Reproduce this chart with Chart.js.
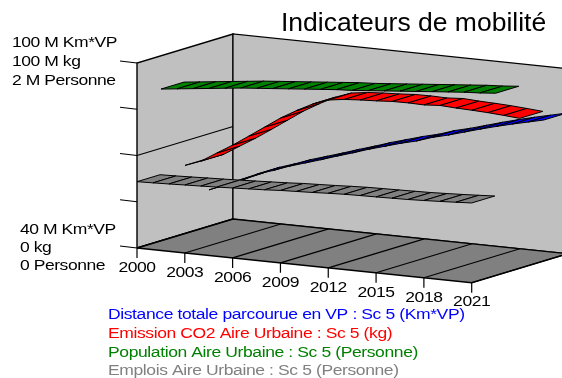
<!DOCTYPE html>
<html>
<head>
<meta charset="utf-8">
<title>Indicateurs de mobilité</title>
<script src="https://cdn.jsdelivr.net/npm/chart.js@4"></script>
<style>
  html, body { margin: 0; padding: 0; background: #fff; overflow: hidden; }
  canvas { display: block; }
</style>
</head>
<body>
<canvas id="chart3d" width="562" height="378"></canvas>
<script>
// valeurs, une par an
var years = [2000,2001,2002,2003,2004,2005,2006,2007,2008,2009,2010,2011,2012,2013,2014,2015,2016,2017,2018,2019,2020,2021];
var tickYears = [2000,2003,2006,2009,2012,2015,2018,2021];
var distanceKm = [51.8,53.9,56.2,58.5,60.2,62.1,63.7,65.3,67,68.6,70.3,71.8,73.3,74.6,76.3,77.6,79.1,80.6,82,83.3,84.5,85.7];
var emissionKg = [36.8,40,45.3,50.5,56.2,62,67.8,72.7,77.1,80.2,81.4,82,82.4,83,83.1,82.9,83.5,83,82.7,82.3,81.7,81];
var population = [1.64,1.66,1.68,1.70,1.72,1.74,1.755,1.77,1.785,1.80,1.815,1.83,1.84,1.855,1.87,1.885,1.90,1.915,1.93,1.945,1.955,1.97];
var emplois = [0.717,0.722,0.728,0.735,0.741,0.748,0.756,0.764,0.772,0.783,0.79,0.797,0.806,0.813,0.817,0.82,0.824,0.828,0.835,0.843,0.852,0.862];
var topLabels = ['100 M Km*VP','100 M kg','2 M Personne'];
var bottomLabels = ['40 M Km*VP','0 kg','0 Personne'];
var legendLabels = ['Distance totale parcourue en VP : Sc 5 (Km*VP)','Emission CO2 Aire Urbaine : Sc 5 (kg)','Population Aire Urbaine : Sc 5 (Personne)','Emplois Aire Urbaine : Sc 5 (Personne)'];
var legendColors = ['#0000ff','#ff0000','#008000','#808080'];

// repere oblique : annee, hauteur 0-1, profondeur 0-1
var lastYear = years.length - 1;
function project(k, h, d) {
    return {
        x: 137 + k * 334.7 / lastYear + d * 96,
        y: 248 + k * 34.7 / lastYear - d * 29 - h * 185
    };
}

function poly(points, fillColor, width) {
    return {
        data: points.concat([points[0]]),
        showLine: true,
        fill: fillColor ? 'shape' : false,
        backgroundColor: fillColor || 'transparent',
        borderColor: '#000',
        borderWidth: width,
        pointRadius: 0,
        tension: 0
    };
}

function wire(points, width) {
    var ds = poly(points, null, width);
    ds.data = points;
    return ds;
}

// ruban : un quadrilatere par annee
function ribbon(values, min, max, depth, color) {
    var out = [];
    var thick = 0.24;
    for (var k = 0; k < lastYear; k++) {
        var a = (values[k] - min) / (max - min);
        var b = (values[k + 1] - min) / (max - min);
        out.push(poly([project(k, a, depth), project(k + 1, b, depth), project(k + 1, b, depth + thick), project(k, a, depth + thick)], color, 1));
    }
    return out;
}

// ordre de peinture : du fond vers l'avant
var painted = [];
painted.push(poly([project(0,0,0),project(0,1,0),project(0,1,1),project(0,0,1)], '#c0c0c0', 1.4));
painted.push(poly([project(0,0,1),project(0,1,1),project(lastYear,1,1),project(lastYear,0,1)], '#c0c0c0', 1.2));
painted.push(poly([project(0,0,0),project(0,0,1),project(lastYear,0,1),project(lastYear,0,0)], '#808080', 1.4));
painted.push(wire([project(0,0.5,0),project(0,0.5,1)], 1.2));
tickYears.forEach(function(y) {
    var k = years.indexOf(y);
    painted.push(wire([project(k,0,0),project(k,0,1)], 1.2));
    var p = project(k,0,0);
    painted.push(wire([p,{x:p.x,y:p.y+10}], 1.2));
});
[0,0.25,0.5,0.75,1].forEach(function(h) {
    var p = project(0,h,0);
    painted.push(wire([p,{x:p.x-17,y:p.y-2}], 1.2));
});
painted = painted
    .concat(ribbon(distanceKm, 40, 100, 0.75, '#0000ff'))
    .concat(ribbon(emissionKg, 0, 100, 0.5, '#ff0000'))
    .concat(ribbon(population, 0, 2, 0.25, '#008000'))
    .concat(ribbon(emplois, 0, 2, 0, '#808080'));

// texte etire en largeur comme sur l'original
function wideText(ctx, text, x, y) {
    ctx.save();
    ctx.translate(x, y);
    ctx.scale(1.13, 1);
    ctx.fillText(text, 0, 0);
    ctx.restore();
}

var textPlugin = {
    id: 'textPlugin',
    afterDraw: function(chart) {
        var ctx = chart.ctx;
        ctx.save();
        ctx.textBaseline = 'middle';
        ctx.fillStyle = '#000';

        ctx.font = '26.5px "Liberation Sans"';
        ctx.letterSpacing = '0px';
        ctx.textAlign = 'left';
        ctx.fillText('Indicateurs de mobilité', 281, 24);

        ctx.font = '15.5px "Liberation Sans"';
        ctx.letterSpacing = '-0.4px';
        topLabels.forEach(function(t, i) { wideText(ctx, t, 12, 43 + i * 19); });
        bottomLabels.forEach(function(t, i) { wideText(ctx, t, 20, 230 + i * 18); });

        ctx.textAlign = 'center';
        tickYears.forEach(function(y) {
            var p = project(years.indexOf(y), 0, 0);
            wideText(ctx, String(y), p.x, p.y + 19.5);
        });

        ctx.textAlign = 'left';
        ctx.letterSpacing = '-0.35px';
        legendLabels.forEach(function(t, i) {
            ctx.fillStyle = legendColors[i];
            wideText(ctx, t, 108, 315 + i * 18.7);
        });
        ctx.restore();
    }
};

new Chart(document.getElementById('chart3d'), {
    type: 'scatter',
    data: { datasets: painted.reverse() },
    options: {
        responsive: false,
        animation: false,
        layout: { padding: 0 },
        scales: {
            x: { type: 'linear', min: 0, max: 562, display: false },
            y: { type: 'linear', min: 0, max: 378, reverse: true, display: false }
        },
        plugins: { legend: { display: false }, tooltip: { enabled: false }, title: { display: false } }
    },
    plugins: [textPlugin]
});
</script>
</body>
</html>
